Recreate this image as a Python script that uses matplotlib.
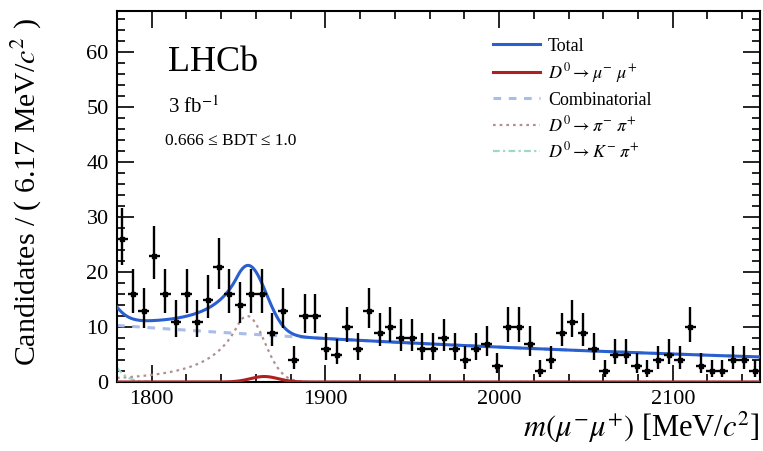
import numpy as np
import matplotlib
matplotlib.use("Agg")
import matplotlib.pyplot as plt
from matplotlib.ticker import MultipleLocator

plt.rcParams['font.family'] = ['Liberation Serif', 'DejaVu Serif']
plt.rcParams['mathtext.fontset'] = 'stix'

# Histogram binning: 60 bins of 6.17 MeV/c^2 from 1780 MeV/c^2
x_min = 1780.0
bin_width = 6.17
n_bins = 60

counts = [26, 16, 13, 23, 16, 11, 16, 11, 15, 21,
          16, 14, 16, 16, 9, 13, 4, 12, 12, 6,
          5, 10, 6, 13, 9, 10, 8, 8, 6, 6,
          8, 6, 4, 6, 7, 3, 10, 10, 7, 2,
          4, 9, 11, 9, 6, 2, 5, 5, 3, 2,
          4, 5, 4, 10, 3, 2, 2, 4, 4, 2]

# Fit model parameters (per-bin yields at the component peaks)
comb_at_min = 10.3        # combinatorial level at 1780 MeV/c^2
comb_slope = 0.0022       # exponential slope [1/(MeV/c^2)]
sig_peak, sig_mean, sig_sigma = 1.0, 1864.8, 8.0
pipi_peak, pipi_mean, pipi_sigma, pipi_alpha, pipi_n = 12.0, 1855.0, 10.0, 0.6, 3.0
kpi_peak, kpi_mean, kpi_sigma = 8.0, 1765.0, 10.0

legend_labels = ["Total",
                 r"$D^0 \rightarrow \mu^{-}\ \mu^{+}$",
                 "Combinatorial",
                 r"$D^0 \rightarrow \pi^{-}\ \pi^{+}$",
                 r"$D^0 \rightarrow K^{-}\ \pi^{+}$"]


def crystal_ball(m, peak, mean, sigma, alpha, n):
    t = (m - mean) / sigma
    a = (n / alpha) ** n * np.exp(-0.5 * alpha ** 2)
    b = n / alpha - alpha
    core = np.exp(-0.5 * t ** 2)
    tail = a * np.abs(b - t) ** (-n)
    return peak * np.where(t > -alpha, core, tail)


def gauss(m, peak, mean, sigma):
    return peak * np.exp(-0.5 * ((m - mean) / sigma) ** 2)


counts = np.array(counts, dtype=float)
x_max = x_min + n_bins * bin_width
centers = x_min + bin_width * (np.arange(n_bins) + 0.5)
err_lo = np.sqrt(counts + 0.25) - 0.5
err_hi = np.sqrt(counts + 0.25) + 0.5

m = np.linspace(x_min, x_max, 800)
comb = comb_at_min * np.exp(-comb_slope * (m - x_min))
sig = gauss(m, sig_peak, sig_mean, sig_sigma)
pipi = crystal_ball(m, pipi_peak, pipi_mean, pipi_sigma, pipi_alpha, pipi_n)
kpi = gauss(m, kpi_peak, kpi_mean, kpi_sigma)
total = comb + sig + pipi + kpi

fig = plt.figure(figsize=(7.63, 4.51), dpi=100)
ax = fig.add_axes([0.1533, 0.153, 0.8427, 0.8226])

c_total = '#2a5fd0'
c_sig = '#b02020'
c_comb = '#a9bde8'
c_pipi = '#b09090'
c_kpi = '#9fd6c8'

ax.plot(m, comb, color=c_comb, lw=2.2, ls=(0, (2.5, 2.5)), zorder=2)
ax.plot(m, pipi, color=c_pipi, lw=1.6, ls=(0, (1.2, 1.8)), zorder=2)
ax.plot(m, kpi, color=c_kpi, lw=1.6, ls=(0, (3, 1.5, 1, 1.5)), zorder=2)
ax.plot(m, sig, color=c_sig, lw=2.2, zorder=3)
ax.plot(m, total, color=c_total, lw=2.2, zorder=3)

ax.errorbar(centers, counts, xerr=bin_width / 2, yerr=[err_lo, err_hi],
            fmt='s', ms=3.2, color='black', ecolor='black', elinewidth=1.7,
            capsize=0, zorder=4)

ax.set_xlim(x_min, x_max)
ax.set_ylim(0, 67.5)

ax.xaxis.set_major_locator(MultipleLocator(100))
ax.xaxis.set_minor_locator(MultipleLocator(20))
ax.yaxis.set_major_locator(MultipleLocator(10))
ax.yaxis.set_minor_locator(MultipleLocator(2))
ax.tick_params(which='both', direction='in', top=True, right=True,
               labelsize=16, width=1.2)
ax.tick_params(which='major', length=12, pad=6)
ax.tick_params(which='minor', length=6)
for s in ax.spines.values():
    s.set_linewidth(1.5)

ax.set_xlabel(r"$m(\mu^{-}\mu^{+})$ [MeV/$c^2$]", fontsize=22, loc='right',
              labelpad=0)
fig.text(0.036, 0.574, r"Candidates / ( 6.17 MeV/$c^2$ )", fontsize=21.5,
         rotation=90, ha='center', va='center')

ax.text(0.079, 0.905, "LHCb", transform=ax.transAxes, fontsize=26,
        va='top', ha='left')
ax.text(0.079, 0.77, "3 fb$^{-1}$", transform=ax.transAxes, fontsize=15,
        va='top', ha='left')
ax.text(0.074, 0.67, "0.666 \u2264 BDT \u2264 1.0", transform=ax.transAxes,
        fontsize=12.5, va='top', ha='left')

handles = [
    plt.Line2D([], [], color=c_total, lw=2.2),
    plt.Line2D([], [], color=c_sig, lw=2.2),
    plt.Line2D([], [], color=c_comb, lw=2.2, ls=(0, (2.5, 2.5))),
    plt.Line2D([], [], color=c_pipi, lw=1.6, ls=(0, (1.2, 1.8))),
    plt.Line2D([], [], color=c_kpi, lw=1.6, ls=(0, (3, 1.5, 1, 1.5))),
]
ax.legend(handles, legend_labels, loc='upper left', bbox_to_anchor=(0.565, 0.962),
          frameon=False, fontsize=13, handlelength=2.6, handletextpad=0.45,
          labelspacing=0.36, borderpad=0.2)

fig.savefig("out.png", dpi=100)
